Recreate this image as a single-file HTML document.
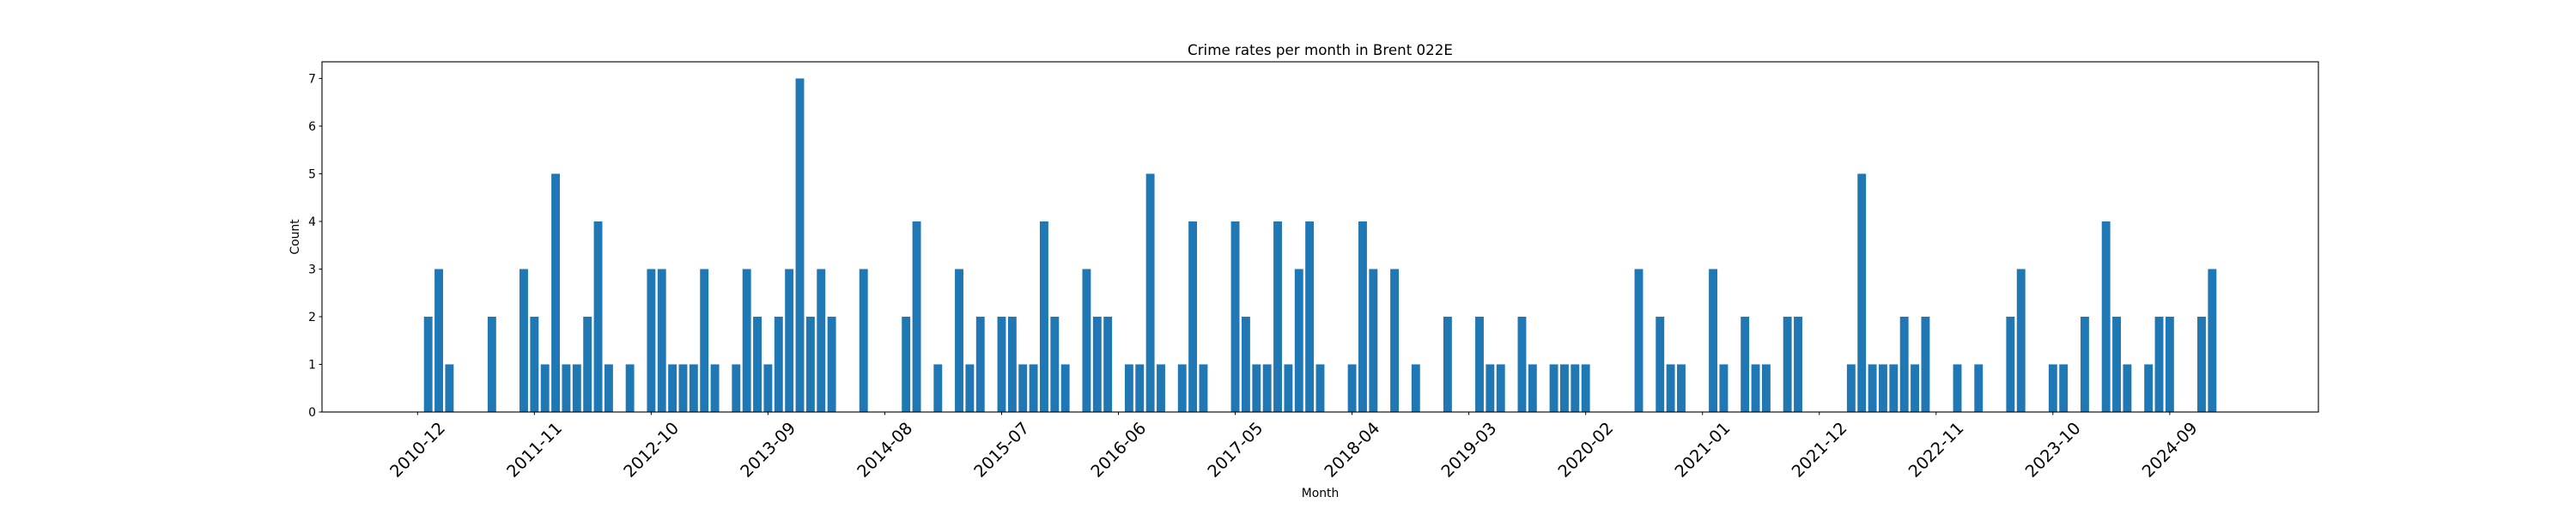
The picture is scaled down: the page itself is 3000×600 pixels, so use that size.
<!DOCTYPE html>
<html><head><meta charset="utf-8"><style>
html,body{margin:0;padding:0;background:#fff;}
svg{display:block;font-family:"DejaVu Sans","Liberation Sans",sans-serif;}
</style></head><body>
<svg id="chart" width="3000" height="600" xmlns="http://www.w3.org/2000/svg">
<rect x="0" y="0" width="3000" height="600" fill="#fff"/>
<text x="1537.5" y="64" text-anchor="middle" font-size="16.7" fill="#000">Crime rates per month in Brent 022E</text>
<text x="1537.5" y="579" text-anchor="middle" font-size="13.9" fill="#000">Month</text>
<text x="0" y="0" transform="translate(348,276) rotate(-90)" text-anchor="middle" font-size="13.9" fill="#000">Count</text>
<g id="bars"></g>
<g id="yticks"></g>
<g id="xticks"></g>
<rect x="375" y="72" width="2325" height="408" fill="none" stroke="#000" stroke-width="1.1"/>
</svg>
<script>
// Month indices relative to 2010-12 (index 0)
const monthIndex = [1,2,3,7,10,11,12,13,14,15,16,17,18,20,22,23,24,25,26,27,28,30,31,32,33,34,35,36,37,38,39,42,46,47,49,51,52,53,55,56,57,58,59,60,61,63,64,65,67,68,69,70,72,73,74,77,78,79,80,81,82,83,84,85,88,89,90,92,94,97,100,101,102,104,105,107,108,109,110,115,117,118,119,122,123,125,126,127,129,130,135,136,137,138,139,140,141,142,145,147,150,151,154,155,157,159,160,161,163,164,165,168,169];
const counts = [2,3,1,2,3,2,1,5,1,1,2,4,1,1,3,3,1,1,1,3,1,1,3,2,1,2,3,7,2,3,2,3,2,4,1,3,1,2,2,2,1,1,4,2,1,3,2,2,1,1,5,1,1,4,1,4,2,1,1,4,1,3,4,1,1,4,3,3,1,2,2,1,1,2,1,1,1,1,1,3,2,1,1,3,1,2,1,1,2,2,1,5,1,1,1,2,1,2,1,1,2,3,1,1,2,4,2,1,1,2,2,2,3];
const tickLabels = ["2010-12","2011-11","2012-10","2013-09","2014-08","2015-07","2016-06","2017-05","2018-04","2019-03","2020-02","2021-01","2021-12","2022-11","2023-10","2024-09"];
const tickIndex = [0,11,22,33,44,55,66,77,88,99,110,121,132,143,154,165];
const yTickValues = [0,1,2,3,4,5,6,7];

const NS = "http://www.w3.org/2000/svg";
const X0 = 375, X1 = 2700, Y0 = 480, Y1 = 72;
const xMin = -9, xMax = 179, yMax = 7.35;
function xScale(m){ return X0 + (m - xMin) / (xMax - xMin) * (X1 - X0); }
function yScale(v){ return Y0 - v / yMax * (Y0 - Y1); }
const bw = 0.8 * (xScale(1) - xScale(0));

const bars = document.getElementById('bars');
for (let i = 0; i < counts.length; i++) {
  const r = document.createElementNS(NS, 'rect');
  const cx = xScale(monthIndex[i]);
  r.setAttribute('x', cx - bw / 2);
  r.setAttribute('y', yScale(counts[i]));
  r.setAttribute('width', bw);
  r.setAttribute('height', yScale(0) - yScale(counts[i]));
  r.setAttribute('fill', '#1f77b4');
  
  
  bars.appendChild(r);
}

const yt = document.getElementById('yticks');
for (const v of yTickValues) {
  const y = yScale(v);
  const l = document.createElementNS(NS, 'line');
  l.setAttribute('x1', X0 - 3.5); l.setAttribute('x2', X0);
  l.setAttribute('y1', y); l.setAttribute('y2', y);
  l.setAttribute('stroke', '#000'); l.setAttribute('stroke-width', '1');
  
  
  yt.appendChild(l);
  const t = document.createElementNS(NS, 'text');
  t.setAttribute('x', X0 - 7); t.setAttribute('y', y + 5);
  t.setAttribute('text-anchor', 'end'); t.setAttribute('font-size', '13.9');
  t.textContent = v;
  
  
  yt.appendChild(t);
}

const xt = document.getElementById('xticks');
for (let i = 0; i < tickLabels.length; i++) {
  const x = xScale(tickIndex[i]);
  const l = document.createElementNS(NS, 'line');
  l.setAttribute('x1', x); l.setAttribute('x2', x);
  l.setAttribute('y1', Y0); l.setAttribute('y2', Y0 + 3.5);
  l.setAttribute('stroke', '#000'); l.setAttribute('stroke-width', '1');
  
  
  xt.appendChild(l);
  const t = document.createElementNS(NS, 'text');
  t.setAttribute('x', x); t.setAttribute('y', 524);
  t.setAttribute('text-anchor', 'middle'); t.setAttribute('dominant-baseline', 'central');
  t.setAttribute('font-size', '19.4');
  t.setAttribute('transform', 'rotate(-45 ' + x + ' 524)');
  t.textContent = tickLabels[i];
  
  
  xt.appendChild(t);
}
</script>
</body></html>
